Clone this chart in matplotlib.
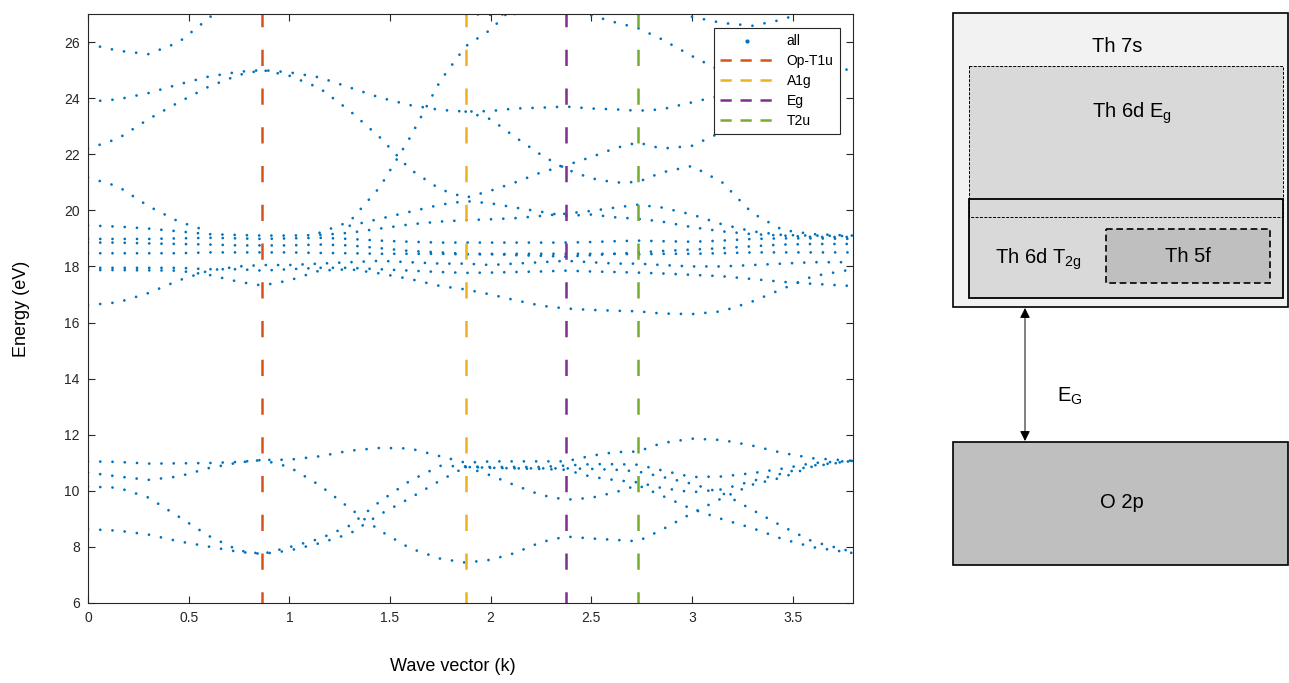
import numpy as np
import matplotlib
matplotlib.use("Agg")
import matplotlib.pyplot as plt
from matplotlib.patches import Rectangle
from matplotlib.lines import Line2D

nan = np.nan
# ---------------- data ----------------
k_nodes = [0, 0.15, 0.3, 0.45, 0.6, 0.75, 0.866, 1.0, 1.15, 1.3, 1.45, 1.6, 1.75, 1.876,
           2.0, 2.12, 2.25, 2.373, 2.5, 2.62, 2.731, 2.85, 3.0, 3.15, 3.3, 3.45, 3.6, 3.8]

# valence (O 2p) bands
val_a = [8.63, 8.58, 8.44, 8.20, 8.01, 7.82, 7.75, 7.87, 8.13, 8.47, 9.16, 9.74, 10.37, 10.85,
         10.82, 10.80, 10.80, 10.80, 10.78, 10.75, 10.69, 10.50, 10.25, 9.92, 9.32, 8.73, 8.19, 7.82]
val_b = [10.15, 10.11, 9.76, 9.08, 8.39, 7.87, 7.75, 7.99, 8.29, 8.76, 9.62, 10.36, 10.89, 10.87,
         10.85, 10.85, 10.85, 10.90, 10.95, 10.95, 10.93, 10.73, 10.49, 10.51, 10.63, 10.79, 10.99, 11.07]
val_c = [10.65, 10.51, 10.39, 10.51, 10.81, 11.01, 11.10, 11.11, 11.23, 11.43, 11.53, 11.51, 11.23, 11.00,
         11.05, 11.05, 11.05, 11.05, 11.25, 11.38, 11.40, 11.70, 11.86, 11.81, 11.61, 11.35, 11.16, 11.07]
val_d = [11.05, 11.03, 10.97, 10.98, 10.99, 11.03, 11.10, 10.85, 10.20, 9.38, 8.58, 7.95, 7.58, 7.44,
         7.54, 7.78, 8.17, 8.37, 8.30, 8.25, 8.20, 8.61, 9.20, 9.74, 10.22, 10.48, 10.87, 11.07]
val_e = [nan] * 13 + [10.85, 10.55, 10.20, 9.85, 9.68, 9.75, 9.95, 10.20, 9.83, 9.35, 8.99, 8.67, 8.28, 7.99, 7.78]
val_f = [nan] * 13 + [10.85, 10.82, 10.80, 10.78, 10.75, 10.50, 10.38, 10.30, 10.10, 9.95, 10.05, 10.35, 10.62, 10.90, 11.07]

# conduction bands
con_1 = [25.93, 25.69, 25.57, 25.99, 26.85, 27.8] + [nan] * 22
con_2 = [23.87, 23.96, 24.18, 24.49, 24.77, 24.94, 25.00, 24.92, 24.74, 24.38, 24.02, 23.75, 23.58, 23.52,
         23.54, 23.63, 23.66, 23.70, 23.63, 23.60, 23.55, 23.60, 23.85, 24.10, 24.35, 24.60, 24.85, 25.05]
con_3 = [22.20, 22.56, 23.25, 23.85, 24.41, 24.83, 25.00, 24.80, 24.36, 23.55, 22.60, 21.46, 20.75, 20.45,
         20.70, 20.99, 21.35, 21.60, 21.90, 22.22, 22.42, 22.20, 22.30, 22.80, 23.30, 23.70, 24.00, nan]
con_4 = [nan] * 13 + [23.52, 23.25, 22.62, 21.98, 21.47, 21.14, 20.99, 21.01, 21.35, 21.58, 21.00, 19.90, 19.30, 19.15, 19.10]
con_5 = [nan] * 8 + [19.20, 19.60, 20.83, 22.60, 24.62, 25.85, 26.44, 27.30] + [nan] * 12
con_6 = [21.17, 20.85, 20.15, 19.60, 19.25] + [nan] * 23
con_7 = [nan] * 9 + [19.45, 19.70, 19.95, 20.20, 20.33, 20.25, 20.10, 19.95, 19.80, 19.85, 19.75, 19.70,
                     19.60, 19.40, 19.25, 19.15, 19.10, 19.05, 19.05]
con_8 = [nan] * 13 + [27.00, 26.97, 27.00, 27.20] + [nan] * 11
con_9 = [nan] * 18 + [26.95, 26.70, 26.50, 26.10, 25.50, 24.95, 24.50, 24.30, nan, nan]
con_10 = [nan] * 22 + [26.90, 26.68, 26.58, 26.80, 27.20, nan]
clu_1 = [19.46, 19.42, 19.35, 19.25, 19.15, 19.12, 19.10, 19.10, 19.12, 19.20, 19.35, 19.50, 19.60, 19.65,
         19.68, 19.72, 19.80, 19.88, 19.98, 20.10, 20.20, 20.10, 19.85, 19.50, 19.25, 19.12, 19.10, 19.08]
clu_2 = [18.98, 18.98, 18.98, 19.00, 19.02, 19.00, 18.98, 19.00, 19.02, 18.98, 18.92, 18.88, 18.85, 18.85,
         18.85, 18.85, 18.85, 18.85, 18.87, 18.90, 18.92, 18.90, 18.88, 18.92, 18.98, 19.00, 19.00, 18.98]
clu_3 = [18.85, 18.85, 18.82, 18.80, 18.78, 18.75, 18.75, 18.75, 18.78, 18.75, 18.65, 18.55, 18.50, 18.45,
         18.45, 18.40, 18.38, 18.35, 18.40, 18.45, 18.50, 18.55, 18.60, 18.65, 18.72, 18.78, 18.80, 18.80]
clu_4 = [18.47, 18.47, 18.47, 18.47, 18.50, 18.50, 18.50, 18.50, 18.48, 18.47, 18.45, 18.45, 18.45, 18.43,
         18.43, 18.45, 18.45, 18.45, 18.45, 18.45, 18.43, 18.45, 18.45, 18.47, 18.50, 18.50, 18.50, 18.50]
clu_5 = [16.62, 16.72, 17.05, 17.50, 17.85, 18.00, 18.05, 18.05, 18.10, 18.15, 18.20, 18.15, 18.10, 18.10,
         18.05, 18.10, 18.15, 18.20, 18.15, 18.10, 18.10, 18.05, 18.00, 18.00, 18.05, 18.10, 18.15, 18.15]
clu_6 = [17.87, 17.87, 17.86, 17.85, 17.70, 17.45, 17.32, 17.50, 17.85, 17.90, 17.75, 17.55, 17.30, 17.18,
         17.00, 16.80, 16.60, 16.50, 16.45, 16.42, 16.40, 16.32, 16.30, 16.40, 16.75, 17.20, 17.65, 17.90]
clu_7 = [17.95, 17.95, 17.95, 17.95, 17.90, 17.90, 17.85, 17.90, 17.95, 17.95, 17.90, 17.85, 17.80, 17.77,
         17.78, 17.80, 17.82, 17.85, 17.82, 17.80, 17.78, 17.75, 17.70, 17.65, 17.55, 17.45, 17.38, 17.30]

bands = [val_a, val_b, val_c, val_d, val_e, val_f,
         con_1, con_2, con_3, con_4, con_5, con_6, con_7, con_8, con_9, con_10,
         clu_1, clu_2, clu_3, clu_4, clu_5, clu_6, clu_7]

sym_labels = ["Op-T1u", "A1g", "Eg", "T2u"]
sym_k = [0.866, 1.876, 2.373, 2.731]
sym_colors = ["#D95319", "#EDB120", "#7E2F8E", "#77AC30"]

x_ticks = [0, 0.5, 1, 1.5, 2, 2.5, 3, 3.5]
x_ticklabels = ["0", "0.5", "1", "1.5", "2", "2.5", "3", "3.5"]
y_ticks = [6, 8, 10, 12, 14, 16, 18, 20, 22, 24, 26]

# ---------------- figure ----------------
plt.rcParams['font.family'] = ['Liberation Sans', 'DejaVu Sans']
plt.rcParams['mathtext.fontset'] = 'custom'
plt.rcParams['mathtext.rm'] = 'Liberation Sans'
plt.rcParams['mathtext.it'] = 'Liberation Sans'

W, H = 1289, 683
fig = plt.figure(figsize=(W / 100, H / 100), dpi=100)
ax = fig.add_axes([88 / W, (H - 603) / H, 765 / W, 589 / H])

blue = "#0072BD"
for b in bands:
    ax.plot(k_nodes, b, color=blue, lw=2.0, ls=(0, (0.01, 4.4)),
            dash_capstyle='round', solid_capstyle='round')

for lab, kv, c in zip(sym_labels, sym_k, sym_colors):
    ax.plot([kv, kv], [6, 27], color=c, lw=1.8, ls=(2, (6.5, 9)), label=lab)

ax.set_xlim(0, 3.8)
ax.set_ylim(6, 27)
ax.set_xticks(x_ticks)
ax.set_xticklabels(x_ticklabels)
ax.set_yticks(y_ticks)
ax.tick_params(direction='in', top=True, right=True, length=5, width=0.8,
               labelsize=10, colors='#262626', pad=6)
for s in ax.spines.values():
    s.set_color('#262626')
    s.set_linewidth(0.8)

ax.set_xlabel("Wave vector (k)", fontsize=13)
ax.set_ylabel("Energy (eV)", fontsize=13)
ax.xaxis.set_label_coords(365 / 765, -(658 - 603) / 589)
ax.yaxis.set_label_coords(-(88 - 30) / 765, 0.5)

handles = [Line2D([], [], ls='none', marker='.', markersize=4, color=blue)]
handles += [Line2D([], [], color=c, lw=1.8, ls=(0, (4.5, 3.5))) for c in sym_colors]
leg = ax.legend(handles, ["all"] + sym_labels, loc='upper right',
                bbox_to_anchor=(0.983, 0.976), borderaxespad=0, fontsize=10,
                handlelength=3.8, frameon=True, fancybox=False, framealpha=1,
                edgecolor='#262626', borderpad=0.45, labelspacing=0.42, handletextpad=1.0)
leg.get_frame().set_linewidth(0.8)

# ---------------- schematic ----------------
ax2 = fig.add_axes([940 / W, 0, 349 / W, 1])
ax2.set_xlim(940, 1289)
ax2.set_ylim(683, 0)
ax2.axis('off')
nf = ['Liberation Sans', 'DejaVu Sans']

ax2.add_patch(Rectangle((953, 13), 335, 294, fc='#f2f2f2', ec='black', lw=1.2, clip_on=False))
ax2.add_patch(Rectangle((969, 66), 314, 151, fc='#d9d9d9', ec='none', clip_on=False))
ax2.add_patch(Rectangle((969, 199), 314, 99, fc='#d9d9d9', ec='black', lw=1.3, clip_on=False))
ax2.add_patch(Rectangle((969, 66), 314, 151, fc='none', ec='black', lw=0.7,
                        ls=(0, (3, 1.5)), clip_on=False))
ax2.add_patch(Rectangle((1106, 229), 164, 54, fc='#bfbfbf', ec='black', lw=1.2,
                        ls=(0, (4, 2.2)), clip_on=False))
ax2.add_patch(Rectangle((953, 442), 335, 123, fc='#bfbfbf', ec='black', lw=1.2, clip_on=False))

ax2.annotate('', xy=(1025, 308), xytext=(1025, 441),
             arrowprops=dict(arrowstyle='<|-|>', lw=0.7, color='black',
                             mutation_scale=15, shrinkA=0, shrinkB=0))

ax2.text(1117, 46, "Th 7s", ha='center', va='center', fontsize=14.5, family=nf)
ax2.text(1132, 113, r"Th 6d E$_{\rm g}$", ha='center', va='center', fontsize=14.5, family=nf)
ax2.text(1038, 259, r"Th 6d T$_{\rm 2g}$", ha='center', va='center', fontsize=14.5, family=nf)
ax2.text(1188, 256, "Th 5f", ha='center', va='center', fontsize=14.5, family=nf)
ax2.text(1070, 396, r"E$_{\rm G}$", ha='center', va='center', fontsize=14.5, family=nf)
ax2.text(1122, 503, "O 2p", ha='center', va='center', fontsize=14.5, family=nf)

fig.savefig("out.png", dpi=100)
